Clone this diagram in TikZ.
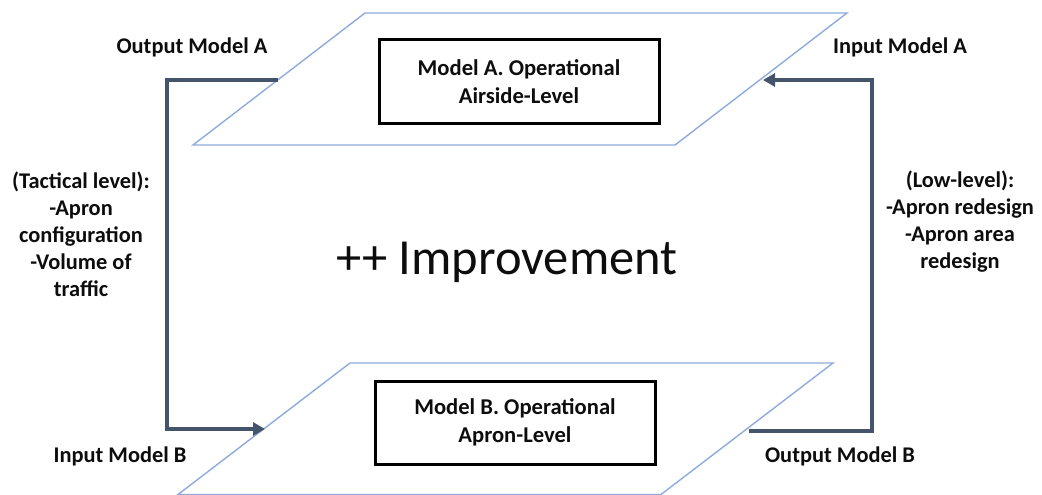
\documentclass[tikz,border=0pt]{standalone}
\usepackage{fontspec}
\setmainfont{Carlito}
\usetikzlibrary{arrows.meta}
\definecolor{conncol}{HTML}{44546A}
\definecolor{planecol}{HTML}{8FAADC}
\definecolor{txtcol}{HTML}{0D0D0D}
\tikzset{
  plane/.style={draw=planecol, line width=1.4pt, line join=miter},
  modelbox/.style={draw=black, line width=3pt, minimum width=280pt, minimum height=83pt, inner sep=0pt, align=center, font=\bfseries\fontsize{22.6}{28}\selectfont, text=txtcol},
  conn/.style={draw=conncol, line width=4pt, line join=miter},
  connarrow/.style={conn, -{Triangle[length=12pt,width=13pt]}},
  lbl/.style={font=\bfseries\fontsize{22.4}{27}\selectfont, text=txtcol, align=center, inner sep=0pt},
  big/.style={font=\fontsize{50.5}{60}\selectfont, text=txtcol, inner sep=0pt}
}
\begin{document}
\begin{tikzpicture}[x=1pt,y=-1pt]
\useasboundingbox (0,0) rectangle (1042,495);
% planes
\draw[plane] (365,13) -- (847,13) -- (675,145) -- (193,145) -- cycle;
\draw[plane] (350,363) -- (833,363) -- (661,494.5) -- (178,494.5) -- cycle;
% boxes
\node[modelbox] (boxA) at (519,81.5) {Model A. Operational\\Airside-Level};
\node[modelbox] (boxB) at (515,422.5) {Model B. Operational\\Apron-Level};
% connector points
\coordinate (outA) at (278,80);
\coordinate (cornL) at (167,80);
\coordinate (inB) at (265,429);
\coordinate (outB) at (749,431);
\coordinate (cornR) at (872,431);
\coordinate (inA) at (763,80);
\draw[connarrow] (outA) -- (cornL) |- (inB);
\draw[connarrow] (outB) -- (cornR) |- (inA);
% labels
\node[lbl] (lOutA) at (192,47) {Output Model A};
\node[lbl] (lInA) at (900,47) {Input Model A};
\node[lbl] (lInB) at (120,456) {Input Model B};
\node[lbl] (lOutB) at (840,456) {Output Model B};
\node[lbl] (tact) at (81,234) {(Tactical level):\\-Apron\\configuration\\-Volume of\\traffic};
\node[lbl] (low) at (960,222) {(Low-level):\\-Apron redesign\\-Apron area\\redesign};
\node[big, anchor=base] (impr) at (507,274) {++ Improvement};
\end{tikzpicture}
\end{document}
